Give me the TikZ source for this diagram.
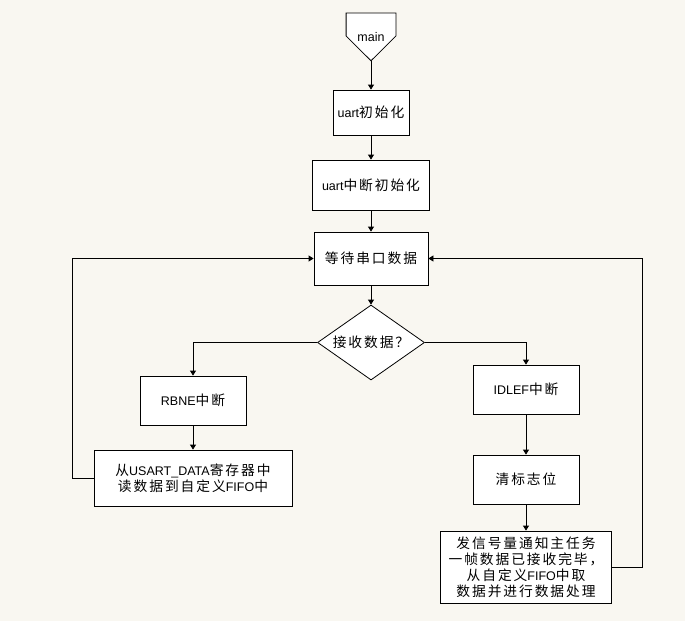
\documentclass[tikz,border=0pt]{standalone}
\usepackage{fontspec}
\setmainfont{Liberation Sans}
\newfontfamily\cjk[Scale=1.1,LetterSpace=14]{Noto Sans CJK SC}
\usetikzlibrary{shapes.geometric,arrows.meta}
\definecolor{paper}{RGB}{249,247,241}
\newcommand\zh[1]{{\cjk #1}}

\begin{document}
\begin{tikzpicture}[x=1pt,y=-1pt,line width=0.8pt,
  every node/.style={font=\fontsize{12.5}{16}\selectfont,align=center,inner sep=0pt},
  box/.style 2 args={draw,fill=white,minimum width=#1,minimum height=#2},
  flow/.style={-{Triangle[length=5pt,width=6pt]}}]
\fill[paper] (0,0) rectangle (685,621);

\node[minimum width=49,minimum height=47,anchor=north] (main) at (371,13) {};
\filldraw[fill=white] (main.north west) -- (main.north east) -- ++(0,23)
  -- (main.south) -- (main.north west |- 0,36) -- cycle;
\node (maintext) at (main) {main};

\node[box={76}{45}] (init) at (371,112.5) {uart\zh{初始化}};
\node[box={117}{50}] (uartint) at (371,185) {uart\zh{中断初始化}};
\node[box={114}{53}] (wait) at (371,258.5) {\zh{等待串口数据}};
\node[draw,fill=white,diamond,aspect=1.43,minimum width=107,minimum height=75] (recv) at (371,342.5) {\zh{接收数据？}};
\node[box={106}{49}] (rbne) at (193,400.5) {RBNE\zh{中断}};
\node[box={198}{56}] (copy) at (193,478) {\zh{从}USART\_DATA\zh{寄存器中}\\\zh{读数据到自定义}FIFO\zh{中}};
\node[box={106}{49}] (idle) at (526,389.5) {IDLEF\zh{中断}};
\node[box={106}{49}] (clr) at (526,479.5) {\zh{清标志位}};
\node[box={171}{72}] (notify) at (526,567) {\zh{发信号量通知主任务}\\\zh{一帧数据已接收完毕，}\\\zh{从自定义}FIFO\zh{中取}\\\zh{数据并进行数据处理}};

\draw[flow] (main.south) -- (init);
\foreach \a/\b in {init/uartint,uartint/wait,wait/recv,rbne/copy,idle/clr,clr/notify}
  \draw[flow] (\a) -- (\b);
\draw[flow] (recv.west) -| (rbne);
\draw[flow] (recv.east) -| (idle);
\draw[flow] (copy.west) -- ++(-21,0) |- (wait.west);
\draw[flow] (notify.east) -- ++(30,0) |- (wait.east);
\end{tikzpicture}
\end{document}
